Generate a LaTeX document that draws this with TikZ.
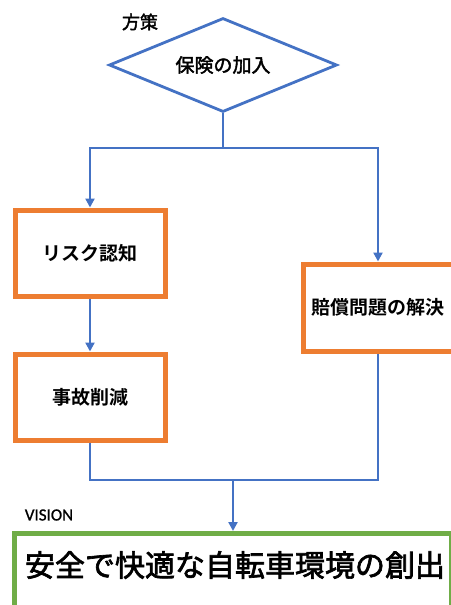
\documentclass[tikz,border=0pt]{standalone}
\usepackage{fontspec}
\newfontfamily\jp[BoldFont={Noto Sans CJK JP Bold}]{Noto Sans CJK JP}
\newfontfamily\jpm[FakeBold=2.2]{Noto Sans CJK JP}
\newfontfamily\lat[FakeBold=1]{Carlito}
\usetikzlibrary{shapes.geometric,arrows.meta}
\definecolor{oblue}{HTML}{4472C4}
\definecolor{oorange}{HTML}{ED7D31}
\definecolor{ogreen}{HTML}{70AD47}
\tikzset{
  stepbox/.style={draw=oorange,line width=5pt,fill=white,inner sep=0pt,font=\jp\bfseries\fontsize{19}{21}\selectfont},
  flow/.style={draw=oblue,line width=2.8pt},
  arr/.style={flow,-{Triangle[width=9pt,length=9pt]}},
}
\begin{document}
\begin{tikzpicture}[x=1pt,y=-1pt]
\useasboundingbox (0,0) rectangle (450,605);
% policy diamond
\node[diamond,draw=oblue,line width=2.8pt,inner sep=0pt,minimum width=228pt,minimum height=94pt,aspect=2.43,
      font=\jpm\fontsize{19}{21}\selectfont] (d) at (223,65) {保険の加入};
\node[font=\jpm\fontsize{18}{20}\selectfont] (lab) at (140,22) {方策};
% boxes
\node[stepbox,minimum width=150pt,minimum height=86pt] (b1) at (90,253) {リスク認知};
\node[stepbox,minimum width=150pt,minimum height=86pt] (b2) at (90,397) {事故削減};
\node[stepbox,minimum width=150pt,minimum height=87pt] (b3) at (378,307.5) {賠償問題の解決};
% vision
\node[font=\lat\fontsize{17}{19}\selectfont] (vl) at (49,515) {VISION};
\node[draw=ogreen,line width=5pt,fill=white,inner sep=0pt,minimum width=437pt,minimum height=82pt] (v) at (233,574.5) {};
\node[font=\jpm\fontsize{30}{32}\selectfont] (vt) at (235,565) {安全で快適な自転車環境の創出};
% connectors
\coordinate (s) at (d.south |- 0,148);
\coordinate (j) at (233,480);
\draw[flow] (d.south) -- (s);
\draw[arr] (s) -| (b1.north);
\draw[arr] (s) -| (b3.north);
\draw[arr] (b1.south) -- (b2.north);
\draw[flow] (b2.south) |- (j) -| (b3.south);
\draw[arr] (j) -- (v.north -| j);
\end{tikzpicture}
\end{document}
